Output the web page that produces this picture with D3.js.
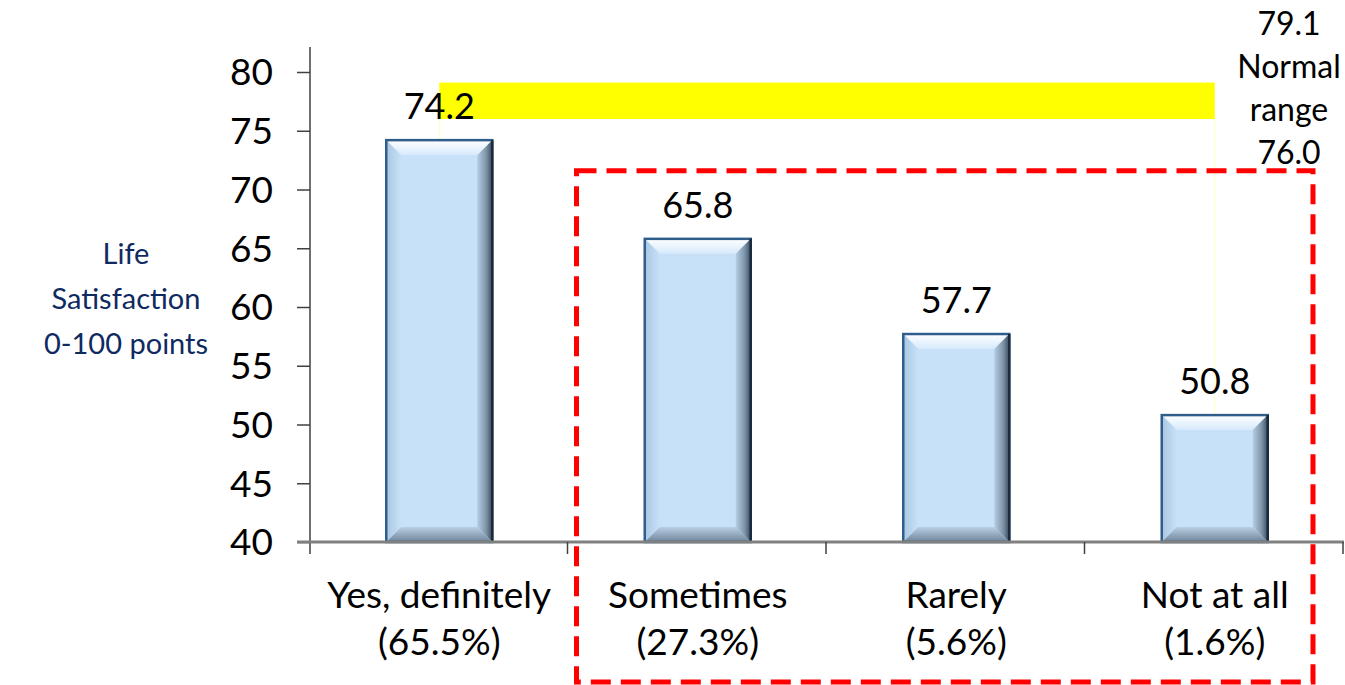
<!DOCTYPE html>
<html>
<head>
<meta charset="utf-8">
<script src="https://cdn.jsdelivr.net/npm/d3@7"></script>
<style>
  html, body { margin: 0; padding: 0; background: #fff; }
  svg { display: block; font-family: Lato, "Open Sans", sans-serif; }
</style>
</head>
<body>
<svg id="chart" width="1345" height="685"></svg>
<script>
// Life satisfaction by response group
const categories = ["Yes, definitely", "Sometimes", "Rarely", "Not at all"];
const shares = ["(65.5%)", "(27.3%)", "(5.6%)", "(1.6%)"];
const values = [74.2, 65.8, 57.7, 50.8];
const yTicks = [40, 45, 50, 55, 60, 65, 70, 75, 80];
const normalLow = 76.0;
const normalHigh = 79.1;
const yTitle = ["Life", "Satisfaction", "0-100 points"];
const rangeLabel = ["79.1", "Normal", "range", "76.0"];

const svg = d3.select("#chart");
const margin = { left: 310, right: 1, top: 47, bottom: 143 };
const W = 1345, H = 685;

const x = d3.scaleBand().domain(categories).range([margin.left, W - margin.right]).paddingInner(0.59).paddingOuter(0.295);
const xb = d3.scaleBand().domain(categories).range([margin.left, W - margin.right]);
const y = d3.scaleLinear().domain([40, 80]).range([542, 72]);

const defs = svg.append("defs");
function lg(id, x1, y1, x2, y2, stops) {
  const g = defs.append("linearGradient").attr("id", id)
    .attr("x1", x1).attr("y1", y1).attr("x2", x2).attr("y2", y2);
  stops.forEach(s => g.append("stop").attr("offset", s[0]).attr("stop-color", s[1]));
}
lg("bevTop", 0, 0, 0, 1, [[0, "#ffffff"], [1, "#d6e9fb"]]);
lg("bevLeft", 0, 0, 1, 0, [[0, "#a9c6e2"], [1, "#c8e1f8"]]);
lg("bevRight", 0, 0, 1, 0, [[0, "#b7cde2"], [0.6, "#7d93a8"], [1, "#3c4d5e"]]);
lg("bevBottom", 0, 0, 0, 1, [[0, "#b9cfe4"], [1, "#6f8498"]]);

// Normal range band across the category centres
const bandX0 = xb(categories[0]) + xb.bandwidth() / 2;
const bandX1 = xb(categories[3]) + xb.bandwidth() / 2;
svg.append("rect")
  .attr("x", bandX0).attr("y", y(normalHigh))
  .attr("width", bandX1 - bandX0).attr("height", y(normalLow) - y(normalHigh))
  .attr("fill", "#ffff00");
[bandX0, bandX1].forEach(bx => {
  svg.append("line").attr("x1", bx).attr("x2", bx)
    .attr("y1", y(normalLow)).attr("y2", y(40))
    .attr("stroke", "#ffff00").attr("stroke-opacity", 0.22).attr("stroke-width", 1);
});

// Axes
const yAxis = svg.append("g").attr("transform", `translate(${margin.left},0)`)
  .call(d3.axisLeft(y).tickValues(yTicks).tickSize(13).tickPadding(24));
yAxis.select(".domain").remove();
yAxis.selectAll(".tick line").attr("stroke", "#404040").attr("stroke-width", 1.5);
yAxis.selectAll(".tick text").attr("font-size", 37).attr("fill", "#000")
  .attr("font-family", "Lato, sans-serif").attr("dy", "0.35em");
svg.append("line").attr("x1", margin.left).attr("x2", margin.left)
  .attr("y1", margin.top).attr("y2", y(40) + 12)
  .attr("stroke", "#404040").attr("stroke-width", 1.5);

// Bars with bevelled edges
const bev = 15;
const bars = svg.append("g").selectAll("g").data(values).join("g");
bars.each(function(v, i) {
  const g = d3.select(this);
  const x0 = x(categories[i]), w = x.bandwidth();
  const y0 = y(v), y1 = y(40), h = y1 - y0;
  g.append("rect").attr("x", x0).attr("y", y0).attr("width", w).attr("height", h).attr("fill", "#c7e1f9");
  const pts = (a) => a.map(p => p.join(",")).join(" ");
  g.append("polygon").attr("fill", "url(#bevTop)")
    .attr("points", pts([[x0, y0], [x0 + w, y0], [x0 + w - bev, y0 + bev], [x0 + bev, y0 + bev]]));
  g.append("polygon").attr("fill", "url(#bevLeft)")
    .attr("points", pts([[x0, y0], [x0 + bev, y0 + bev], [x0 + bev, y1 - bev], [x0, y1]]));
  g.append("polygon").attr("fill", "url(#bevRight)")
    .attr("points", pts([[x0 + w, y0], [x0 + w, y1], [x0 + w - bev, y1 - bev], [x0 + w - bev, y0 + bev]]));
  g.append("polygon").attr("fill", "url(#bevBottom)")
    .attr("points", pts([[x0, y1], [x0 + bev, y1 - bev], [x0 + w - bev, y1 - bev], [x0 + w, y1]]));
  g.append("rect").attr("x", x0).attr("y", y0).attr("width", w).attr("height", h)
    .attr("fill", "none").attr("stroke", "#2f5d8c").attr("stroke-width", 2.5);
  g.append("line").attr("x1", x0 + w).attr("x2", x0 + w).attr("y1", y0).attr("y2", y1)
    .attr("stroke", "#1b2b3c").attr("stroke-width", 2.5);
  g.append("text").attr("x", x0 + w / 2).attr("y", y0 - 21)
    .attr("text-anchor", "middle").attr("font-size", 36).attr("fill", "#000")
    .text(v.toFixed(1));
});

// X axis
const xAxis = svg.append("g").attr("transform", `translate(0,${y(40)})`);
xAxis.append("line").attr("x1", margin.left - 13).attr("x2", W - margin.right)
  .attr("stroke", "#808080").attr("stroke-width", 3);
const bounds = categories.map(c => xb(c)).concat([xb(categories[3]) + xb.bandwidth()]);
xAxis.selectAll(".xt").data(bounds.slice(1)).join("line")
  .attr("x1", d => d - 1).attr("x2", d => d - 1).attr("y1", 0).attr("y2", 12)
  .attr("stroke", "#404040").attr("stroke-width", 1.5);
categories.forEach((c, i) => {
  const cx = xb(c) + xb.bandwidth() / 2;
  const t = svg.append("text").attr("text-anchor", "middle").attr("font-size", 37).attr("fill", "#000");
  t.append("tspan").attr("x", cx).attr("y", 608).text(c);
  t.append("tspan").attr("x", cx).attr("y", 655).text(shares[i]);
});

// Y axis title
const yt = svg.append("text").attr("text-anchor", "middle").attr("font-size", 29).attr("fill", "#0f2a5f");
yTitle.forEach((s, i) => yt.append("tspan").attr("x", 126).attr("y", 264 + i * 45).text(s));

// Normal range label
const rl = svg.append("text").attr("text-anchor", "middle").attr("font-size", 32).attr("fill", "#000");
rangeLabel.forEach((s, i) => rl.append("tspan").attr("x", 1289).attr("y", 35 + i * 43).text(s));

// Dashed outline around the lower-satisfaction groups
const boxX0 = xb(categories[1]) + 8;
const boxX1 = xb(categories[3]) + xb.bandwidth() - 31;
svg.append("rect")
  .attr("x", boxX0).attr("y", y(71.6))
  .attr("width", boxX1 - boxX0).attr("height", 682 - y(71.6))
  .attr("fill", "none").attr("stroke", "#ff0000").attr("stroke-width", 5)
  .attr("stroke-dasharray", "20,10");
</script>
</body>
</html>
